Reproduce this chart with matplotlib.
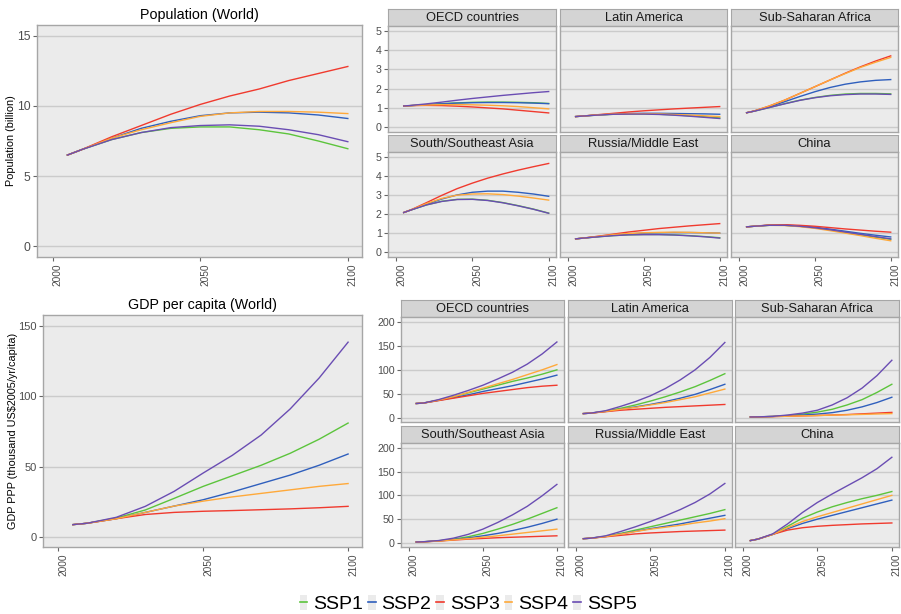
import matplotlib
matplotlib.use('Agg')
import matplotlib.pyplot as plt
from matplotlib.lines import Line2D
from matplotlib.patches import Patch
from matplotlib.legend_handler import HandlerTuple

plt.rcParams['font.family'] = ['Liberation Sans', 'DejaVu Sans']

years = [2005, 2010, 2020, 2030, 2040, 2050, 2060, 2070, 2080, 2090, 2100]
ssps = ['SSP1', 'SSP2', 'SSP3', 'SSP4', 'SSP5']
colors = ['#5cc43c', '#2f5fbd', '#f03a2e', '#ffa93a', '#6a4db3']
regions = ['OECD countries', 'Latin America', 'Sub-Saharan Africa',
           'South/Southeast Asia', 'Russia/Middle East', 'China']

# population, billion
pop_world = {
    'SSP1': [6.5, 6.9, 7.6, 8.1, 8.4, 8.5, 8.5, 8.3, 8.0, 7.5, 6.95],
    'SSP2': [6.5, 6.9, 7.7, 8.4, 8.9, 9.3, 9.5, 9.55, 9.5, 9.35, 9.1],
    'SSP3': [6.5, 6.9, 7.8, 8.6, 9.4, 10.1, 10.7, 11.2, 11.8, 12.3, 12.8],
    'SSP4': [6.5, 6.9, 7.7, 8.3, 8.8, 9.25, 9.5, 9.6, 9.6, 9.55, 9.45],
    'SSP5': [6.5, 6.9, 7.6, 8.1, 8.45, 8.6, 8.65, 8.55, 8.3, 7.95, 7.45],
}
pop_oecd = {
    'SSP1': [1.1, 1.12, 1.17, 1.22, 1.26, 1.29, 1.3, 1.3, 1.29, 1.27, 1.23],
    'SSP2': [1.1, 1.12, 1.17, 1.21, 1.25, 1.27, 1.28, 1.28, 1.27, 1.25, 1.22],
    'SSP3': [1.1, 1.12, 1.13, 1.12, 1.09, 1.05, 1.0, 0.95, 0.88, 0.81, 0.74],
    'SSP4': [1.1, 1.12, 1.15, 1.17, 1.17, 1.16, 1.14, 1.11, 1.07, 1.01, 0.95],
    'SSP5': [1.1, 1.13, 1.21, 1.3, 1.4, 1.49, 1.57, 1.65, 1.72, 1.79, 1.85],
}
pop_latam = {
    'SSP1': [0.55, 0.58, 0.63, 0.67, 0.69, 0.69, 0.67, 0.64, 0.59, 0.54, 0.48],
    'SSP2': [0.55, 0.58, 0.64, 0.68, 0.71, 0.72, 0.72, 0.71, 0.7, 0.69, 0.67],
    'SSP3': [0.55, 0.58, 0.65, 0.72, 0.79, 0.85, 0.9, 0.95, 0.99, 1.03, 1.07],
    'SSP4': [0.55, 0.58, 0.64, 0.68, 0.7, 0.7, 0.69, 0.66, 0.63, 0.59, 0.55],
    'SSP5': [0.55, 0.58, 0.63, 0.67, 0.68, 0.68, 0.66, 0.62, 0.57, 0.51, 0.45],
}
pop_ssa = {
    'SSP1': [0.75, 0.83, 1.02, 1.22, 1.4, 1.54, 1.65, 1.72, 1.75, 1.75, 1.73],
    'SSP2': [0.75, 0.84, 1.06, 1.32, 1.59, 1.84, 2.06, 2.23, 2.35, 2.43, 2.47],
    'SSP3': [0.75, 0.84, 1.1, 1.4, 1.75, 2.1, 2.45, 2.8, 3.13, 3.43, 3.7],
    'SSP4': [0.75, 0.84, 1.1, 1.4, 1.75, 2.1, 2.45, 2.78, 3.1, 3.37, 3.62],
    'SSP5': [0.75, 0.83, 1.02, 1.21, 1.39, 1.53, 1.63, 1.69, 1.72, 1.72, 1.7],
}
pop_ssea = {
    'SSP1': [2.08, 2.22, 2.48, 2.67, 2.77, 2.78, 2.72, 2.6, 2.44, 2.26, 2.05],
    'SSP2': [2.08, 2.22, 2.52, 2.79, 3.0, 3.14, 3.2, 3.2, 3.14, 3.05, 2.93],
    'SSP3': [2.08, 2.23, 2.6, 2.98, 3.33, 3.62, 3.88, 4.1, 4.3, 4.48, 4.65],
    'SSP4': [2.08, 2.23, 2.55, 2.82, 2.99, 3.05, 3.06, 3.02, 2.94, 2.84, 2.73],
    'SSP5': [2.08, 2.22, 2.48, 2.66, 2.76, 2.77, 2.71, 2.59, 2.43, 2.25, 2.04],
}
pop_rme = {
    'SSP1': [0.7, 0.74, 0.81, 0.87, 0.91, 0.93, 0.93, 0.91, 0.87, 0.82, 0.76],
    'SSP2': [0.7, 0.74, 0.82, 0.9, 0.96, 1.0, 1.02, 1.03, 1.03, 1.02, 1.0],
    'SSP3': [0.7, 0.74, 0.84, 0.95, 1.06, 1.15, 1.24, 1.31, 1.38, 1.44, 1.5],
    'SSP4': [0.7, 0.74, 0.83, 0.92, 0.98, 1.02, 1.04, 1.05, 1.04, 1.02, 1.0],
    'SSP5': [0.7, 0.74, 0.81, 0.87, 0.91, 0.92, 0.92, 0.9, 0.86, 0.81, 0.74],
}
pop_china = {
    'SSP1': [1.33, 1.36, 1.41, 1.41, 1.36, 1.28, 1.17, 1.04, 0.92, 0.79, 0.68],
    'SSP2': [1.33, 1.36, 1.42, 1.42, 1.38, 1.31, 1.21, 1.1, 0.99, 0.89, 0.8],
    'SSP3': [1.33, 1.36, 1.43, 1.44, 1.41, 1.36, 1.29, 1.22, 1.16, 1.1, 1.05],
    'SSP4': [1.33, 1.36, 1.41, 1.4, 1.34, 1.25, 1.13, 1.0, 0.87, 0.73, 0.6],
    'SSP5': [1.33, 1.36, 1.41, 1.41, 1.36, 1.28, 1.18, 1.06, 0.94, 0.82, 0.7],
}

# GDP per capita, thousand US$2005/yr
gdp_world = {
    'SSP1': [8.8, 9.8, 13.5, 19.2, 27.5, 36, 43.5, 51, 59.5, 69.5, 81],
    'SSP2': [8.8, 9.8, 13, 17.5, 22, 26.5, 32, 38, 44, 51, 59],
    'SSP3': [8.8, 9.8, 13, 16, 17.5, 18.3, 18.8, 19.4, 20, 20.8, 21.8],
    'SSP4': [8.8, 9.8, 13, 17.5, 22, 25.5, 28.5, 31, 33.5, 36, 38],
    'SSP5': [8.8, 9.8, 14, 21.8, 32.5, 45.5, 58, 72.5, 91, 113, 138.5],
}
gdp_oecd = {
    'SSP1': [30, 31, 37, 44, 52, 60, 68, 76, 83, 91, 100],
    'SSP2': [30, 31, 36.5, 42, 48, 55, 61, 67, 74, 81, 89],
    'SSP3': [30, 31, 36, 41, 46, 51, 55, 59, 63, 66, 68],
    'SSP4': [30, 31, 37, 44, 53, 62, 71, 80, 90, 100, 111],
    'SSP5': [30, 31, 38, 47, 57, 68, 81, 95, 112, 133, 158],
}
gdp_latam = {
    'SSP1': [9, 10, 14, 20, 27, 35, 44, 54, 65, 78, 92],
    'SSP2': [9, 10, 13.5, 18, 23, 28, 34, 41, 49, 59, 70],
    'SSP3': [9, 10, 13, 16, 18, 20, 22, 23.5, 25, 26.5, 28],
    'SSP4': [9, 10, 13.5, 18, 22, 27, 32, 38, 44, 52, 60],
    'SSP5': [9, 10, 15, 24, 34, 46, 61, 79, 100, 126, 157],
}
gdp_ssa = {
    'SSP1': [2, 2.2, 3, 5, 8, 12, 18, 27, 38, 53, 70],
    'SSP2': [2, 2.2, 3, 4.5, 6, 8, 11, 16, 23, 32, 43],
    'SSP3': [2, 2.2, 2.8, 3.5, 4.3, 5, 6, 7, 8.5, 10, 11.5],
    'SSP4': [2, 2.2, 2.8, 3.5, 4.2, 5, 5.8, 6.5, 7.3, 8.2, 9],
    'SSP5': [2, 2.2, 3.2, 6, 10, 16, 27, 42, 62, 88, 120],
}
gdp_ssea = {
    'SSP1': [2, 2.5, 4.5, 8, 13, 20, 29, 39, 50, 62, 74],
    'SSP2': [2, 2.5, 4.2, 7, 10.5, 15, 20, 26, 33, 41, 50],
    'SSP3': [2, 2.4, 4, 6, 8, 9.5, 11, 12, 13, 14, 15],
    'SSP4': [2, 2.4, 4, 6.5, 9, 12, 15, 18.5, 22, 25.5, 29],
    'SSP5': [2, 2.6, 5, 10, 18, 29, 43, 59, 77, 99, 123],
}
gdp_rme = {
    'SSP1': [9, 10, 14, 20, 27, 34, 41, 48, 55, 62, 70],
    'SSP2': [9, 10, 13.5, 19, 24.5, 30, 35, 40, 46, 52, 58],
    'SSP3': [9, 10, 13, 16, 19, 21, 22.5, 24, 25, 26, 27],
    'SSP4': [9, 10, 13.5, 18.5, 24, 29, 33, 37, 42, 46, 51],
    'SSP5': [9, 10, 15, 24, 34, 45, 57, 70, 85, 103, 125],
}
gdp_china = {
    'SSP1': [5, 8, 18, 35, 52, 65, 76, 85, 93, 100, 108],
    'SSP2': [5, 8, 18, 30, 41, 50, 58, 66, 74, 82, 90],
    'SSP3': [5, 8, 18, 27, 32, 35, 37, 38.5, 40, 41, 42],
    'SSP4': [5, 8, 18, 32, 45, 55, 64, 73, 82, 91, 100],
    'SSP5': [5, 8, 19, 40, 64, 85, 103, 120, 137, 156, 180],
}

pop_regions = [pop_oecd, pop_latam, pop_ssa, pop_ssea, pop_rme, pop_china]
gdp_regions = [gdp_oecd, gdp_latam, gdp_ssa, gdp_ssea, gdp_rme, gdp_china]

W, H = 901, 614
fig = plt.figure(figsize=(W / 100, H / 100), dpi=100)


def box(x0, y0, x1, y1):
    return [x0 / W, 1 - y1 / H, (x1 - x0) / W, (y1 - y0) / H]


def style(ax, yticks, ylim, xlabels=True, ylabels=True, ysize=7.7):
    ax.set_facecolor('#ebebeb')
    for s in ax.spines.values():
        s.set_color('#a6a6a6')
        s.set_linewidth(1)
    ax.set_xlim(1994.7, 2104.8)
    ax.set_ylim(*ylim)
    ax.set_xticks([2000, 2050, 2100])
    ax.set_yticks(yticks)
    ax.grid(axis='y', color='#cbcbcb', linewidth=1)
    ax.set_axisbelow(True)
    ax.tick_params(length=3, color='#666666', labelcolor='#4d4d4d', pad=1.5)
    ax.tick_params(axis='x', labelsize=7.3)
    ax.tick_params(axis='y', labelsize=ysize)
    if xlabels:
        ax.set_xticklabels(['2000', '2050', '2100'], rotation=90, ha='left')
    else:
        ax.tick_params(axis='x', length=0, labelbottom=False)
    if not ylabels:
        ax.tick_params(axis='y', length=0, labelleft=False)


def draw(ax, data):
    for s, c in zip(ssps, colors):
        ax.plot(years, data[s], color=c, linewidth=1.0)


def strip(x0, y0, x1, y1, text):
    sa = fig.add_axes(box(x0, y0, x1, y1))
    sa.set_facecolor('#d4d4d4')
    for s in sa.spines.values():
        s.set_color('#a6a6a6')
    sa.set_xticks([])
    sa.set_yticks([])
    sa.text(0.5, 0.45, text, ha='center', va='center', fontsize=9.3,
            color='#1a1a1a', transform=sa.transAxes)


# world population
ax = fig.add_axes(box(37, 25, 362, 257))
draw(ax, pop_world)
style(ax, [0, 5, 10, 15], (-0.75, 15.75), ysize=8.8)
ax.set_title('Population (World)', fontsize=10.3, pad=4)
ax.set_ylabel('Population (billion)', fontsize=7.8, labelpad=0.5)

# regional population
cols_top = [(388, 556), (560, 727), (731, 898)]
rows_top = [((9, 26), (26, 132)), ((135, 152), (152, 257))]
for i, (reg, data) in enumerate(zip(regions, pop_regions)):
    r, c = divmod(i, 3)
    (sy0, sy1), (py0, py1) = rows_top[r]
    x0, x1 = cols_top[c]
    strip(x0, sy0, x1, sy1, reg)
    ax = fig.add_axes(box(x0, py0, x1, py1))
    draw(ax, data)
    style(ax, [0, 1, 2, 3, 4, 5], (-0.25, 5.25), xlabels=(r == 1), ylabels=(c == 0))

# world GDP
ax = fig.add_axes(box(43, 315, 362, 547))
draw(ax, gdp_world)
style(ax, [0, 50, 100, 150], (-7.1, 157.8), ysize=8.0)
ax.set_title('GDP per capita (World)', fontsize=10.3, pad=4)
ax.set_ylabel('GDP PPP (thousand US$2005/yr/capita)', fontsize=7.8, labelpad=0.5)

# regional GDP
cols_bot = [(401, 564), (568, 732), (735, 899)]
rows_bot = [((300, 317), (317, 422)), ((426, 443), (443, 547))]
for i, (reg, data) in enumerate(zip(regions, gdp_regions)):
    r, c = divmod(i, 3)
    (sy0, sy1), (py0, py1) = rows_bot[r]
    x0, x1 = cols_bot[c]
    strip(x0, sy0, x1, sy1, reg)
    ax = fig.add_axes(box(x0, py0, x1, py1))
    draw(ax, data)
    style(ax, [0, 50, 100, 150, 200], (-8.5, 210), xlabels=(r == 1), ylabels=(c == 0))

handles = [(Patch(facecolor='#ebebeb', edgecolor='none'),
            Line2D([], [], color=c, linewidth=1.2)) for c in colors]
fig.legend(handles, ssps, loc='center', bbox_to_anchor=(468 / W, 1 - 604 / H),
           ncol=5, frameon=False, fontsize=14, handlelength=0.4,
           handleheight=0.85, handletextpad=0.3, columnspacing=0.25,
           borderaxespad=0, handler_map={tuple: HandlerTuple(ndivide=1)})

fig.savefig('out.png', dpi=100)
